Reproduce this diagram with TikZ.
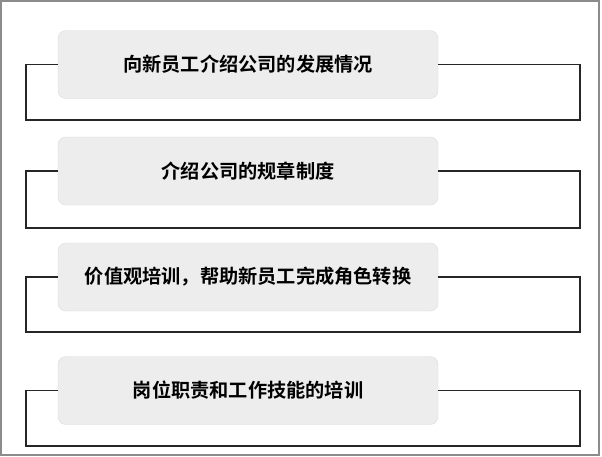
\documentclass[tikz,border=0pt]{standalone}
\usepackage{fontspec}
\newfontfamily\cjk{Noto Sans CJK SC}[BoldFont={Noto Sans CJK SC Bold}]

\tikzset{
  stepbox/.style={rectangle, rounded corners=8pt, fill=black!7, draw=black!14,
    minimum width=380pt, minimum height=68pt, inner sep=0pt,
    font=\cjk\bfseries\fontsize{19.2}{21}\selectfont},
  loopline/.style={line width=1.2pt, black!85}
}

\begin{document}
\begin{tikzpicture}[x=1pt,y=-1pt]
\useasboundingbox (0,0) rectangle (602,456);
\draw[black!45, line width=1.5pt] (1,1) rectangle (599,455);
% boxes
\node[stepbox] (b1) at (248,64.5) {向新员工介绍公司的发展情况};
\node[stepbox] (b2) at (248,171) {介绍公司的规章制度};
\node[stepbox] (b3) at (248,277) {价值观培训，帮助新员工完成角色转换};
\node[stepbox] (b4) at (248,390.5) {岗位职责和工作技能的培训};
% corners of the loops
\coordinate (l1) at (26,120);  \coordinate (r1) at (580,120);
\coordinate (l2) at (26,228);  \coordinate (r2) at (580,228);
\coordinate (l3) at (26,332);  \coordinate (r3) at (580,332);
\coordinate (l4) at (26,446);  \coordinate (r4) at (580,446);
% loops
\draw[loopline] (b1.west) -| (l1) -- (r1) |- (b1.east);
\draw[loopline] (b2.west) -| (l2) -- (r2) |- (b2.east);
\draw[loopline] (b3.west) -| (l3) -- (r3) |- (b3.east);
\draw[loopline] (b4.west) -| (l4) -- (r4) |- (b4.east);
\end{tikzpicture}
\end{document}
